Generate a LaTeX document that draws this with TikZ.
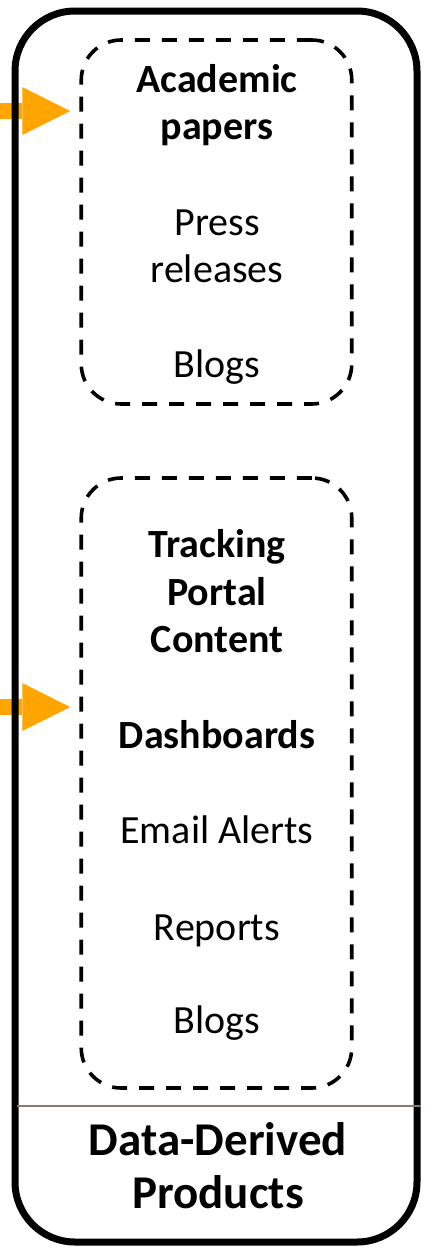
\documentclass[tikz,border=0pt]{standalone}
\usepackage{fontspec}
\setmainfont{Carlito}
\usetikzlibrary{arrows.meta}
\definecolor{feedorange}{RGB}{255,165,0}
\definecolor{sepgray}{RGB}{140,122,112}
\begin{document}
\begin{tikzpicture}[x=1pt,y=-1pt,
  outerbox/.style={draw, line width=7pt, rounded corners=60pt, minimum width=402pt, minimum height=1231pt, inner sep=0pt, outer sep=0pt},
  dashbox/.style={draw, line width=3.6pt, dash pattern=on 15pt off 12pt, rounded corners=40pt, minimum width=270.5pt, inner sep=0pt, outer sep=0pt},
  feed/.style={draw=feedorange, line width=16pt, -{Triangle[length=48pt,width=48pt,line width=0pt]}, shorten >=11pt},
  sep/.style={draw=sepgray, line width=2pt},
  txt/.style={anchor=base, inner sep=0pt, font=\fontsize{40}{48}\selectfont},
  btxt/.style={txt, font=\fontsize{40}{48}\selectfont\bfseries},
  titletxt/.style={anchor=base, inner sep=0pt, font=\fontsize{47}{54}\selectfont\bfseries}]
\useasboundingbox (0,0) rectangle (424,1248);

% dashed groups
\node[dashbox, minimum height=364pt] (box1) at (216.5,222) {};
\node[dashbox, minimum height=610pt] (box2) at (216.5,783) {};

% arrows
\coordinate (inA) at (0,111);
\coordinate (inB) at (0,707);
\path[feed] (inA) -- (inA -| box1.west);
\path[feed] (inB) -- (inB -| box2.west);

% outer box
\node[outerbox] (outer) at (216,626.5) {};
\draw[sep] (17,1106) -- (421,1106);

% texts box 1
\node[btxt] (t1) at (217,92) {Academic};
\node[btxt] (t2) at (217,139) {papers};
\node[txt] (t3) at (217,235) {Press};
\node[txt] (t4) at (217,282) {releases};
\node[txt] (t5) at (217,377) {Blogs};

% texts box 2
\node[btxt] (u1) at (217,557) {Tracking};
\node[btxt] (u2) at (217,605) {Portal};
\node[btxt] (u3) at (217,652) {Content};
\node[btxt] (u4) at (217,748) {Dashboards};
\node[txt] (u5) at (217,843) {Email Alerts};
\node[txt] (u6) at (217,940) {Reports};
\node[txt] (u7) at (217,1033) {Blogs};

% title
\node[titletxt] (ti1) at (218,1155) {Data-Derived};
\node[titletxt] (ti2) at (218,1208) {Products};
\end{tikzpicture}
\end{document}
